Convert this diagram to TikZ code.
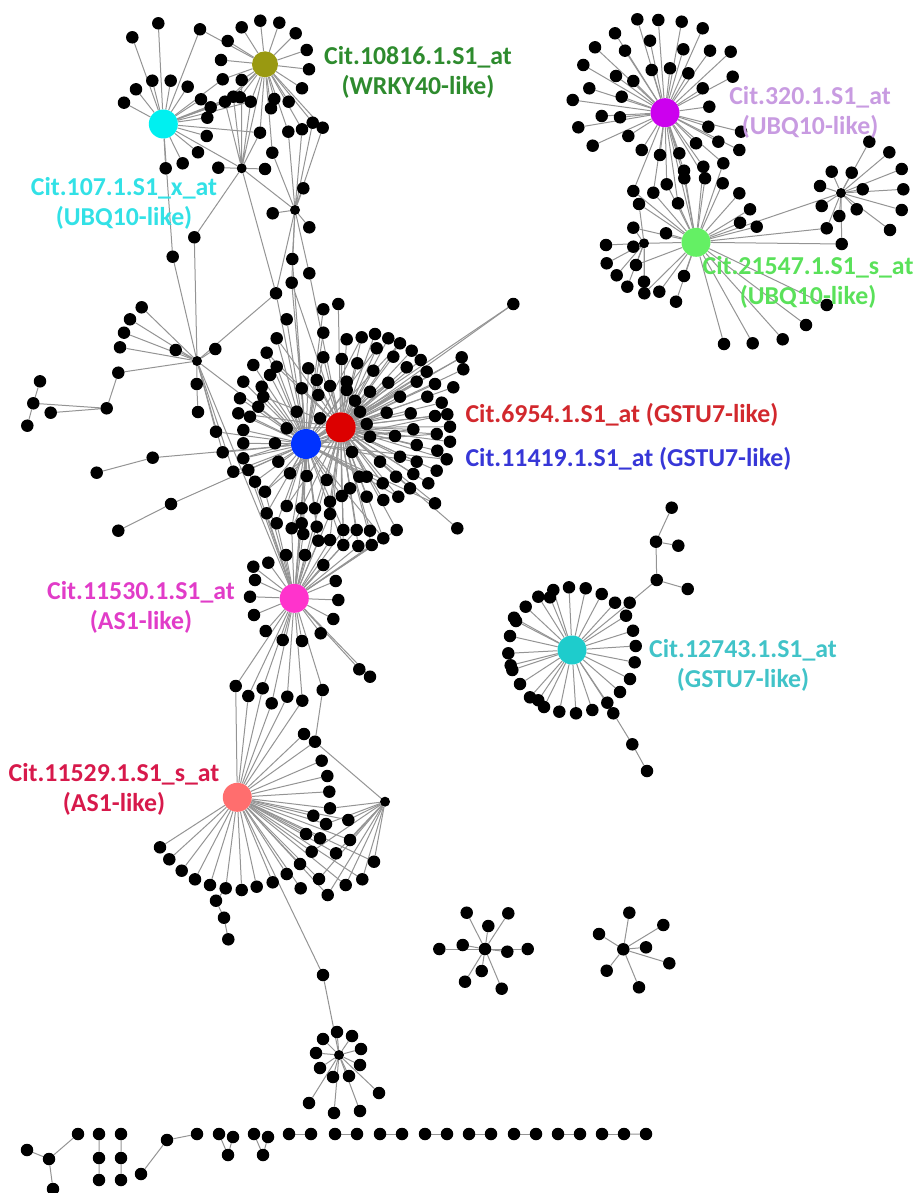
\documentclass[tikz,border=0pt]{standalone}
\usepackage{fontspec}
\setmainfont{Carlito}
\usepackage{tikz}
\pgfdeclarelayer{bg}
\pgfsetlayers{bg,main}

\definecolor{hubolive}{RGB}{153,153,17}
\definecolor{hubcyan}{RGB}{0,240,240}
\definecolor{hubpurple}{RGB}{204,0,238}
\definecolor{hubgreen}{RGB}{100,240,100}
\definecolor{hubred}{RGB}{220,0,0}
\definecolor{hubblue}{RGB}{0,51,255}
\definecolor{hubpink}{RGB}{255,51,204}
\definecolor{hubsalmon}{RGB}{255,110,110}
\definecolor{hubteal}{RGB}{30,204,204}
\definecolor{txtgreen}{RGB}{46,139,46}
\definecolor{txtcyan}{RGB}{50,225,230}
\definecolor{txtpurple}{RGB}{200,155,225}
\definecolor{txtlime}{RGB}{90,225,90}
\definecolor{txtred}{RGB}{210,40,45}
\definecolor{txtblue}{RGB}{55,55,215}
\definecolor{txtpink}{RGB}{225,60,200}
\definecolor{txtcrimson}{RGB}{215,25,75}
\definecolor{txtteal}{RGB}{65,195,200}

\begin{document}
\begin{tikzpicture}[x=1pt,y=-1pt,
  leaf/.style={circle,fill=black,inner sep=0pt,minimum size=12.5pt},
  knot/.style={circle,fill=black,inner sep=0pt,minimum size=10pt},
  hub/.style={circle,inner sep=0pt,minimum size=29pt},
  link/.style={draw=black!42,line width=1pt},
  tag/.style={font=\fontsize{25.8}{30}\selectfont\bfseries,align=center}]
\useasboundingbox (0,0) rectangle (919,1193);

% upper left
\node[hub,fill=hubcyan] (p107) at (163.3,124) {};
\node[hub,fill=hubolive,minimum size=26pt] (p10816) at (265,64.3) {};
\node[knot] (k2) at (241.7,168.3) {};
\node[knot] (k3) at (295,210) {};
\foreach \x/\y [count=\i] in {132.3/37.3,158.3/23.3,200/29.3,124/102.7,136/89.3,152.3/80.7,170.7/80.7,
  187.7/86.7,201/99.3,210.7/107.3,207.3/117.7,206.7/136,198/152.3,182.7/163.3,165.7/168.3,172.7/256.7}
  {\node[leaf] (c\i) at (\x,\y) {};}
\foreach \x/\y [count=\i] in {241.7/27.3,260.3/20.7,279.3/22.7,295.7/33.3,306.7/50,309/69.3,302/88.3,
  227.7/41,221/60,222.7/79.3,241.7/80,233.3/96.7,240/97.3,225/101.7,250.7/101.7,271/108.3,274.3/99,
  288.7/101.7,312.7/122.7,322.7/127.7,302/129.3,288.3/131.7,260/132.7,272.3/152.7}
  {\node[leaf] (o\i) at (\x,\y) {};}
\foreach \x/\y [count=\i] in {218.3/167.7,265/169,194.3/237.3}
  {\node[leaf] (q\i) at (\x,\y) {};}
\foreach \x/\y [count=\i] in {303.3/188.3,272.7/213.3,309.3/227.3,292.3/259,309.3/273.3,291.7/282.7,276/293.3}
  {\node[leaf] (v\i) at (\x,\y) {};}

% left branch
\node[knot] (k1) at (197,361) {};
\foreach \x/\y [count=\i] in {141.7/307.3,130/319.3,124/332.7,120/347.3,175.7/350,215.3/349,196.7/384,
  118.3/372.7,216/431.7,222.7/452.3,233.3/471.7}
  {\node[leaf] (w\i) at (\x,\y) {};}
\node[leaf] (w12) at (198,412) {};
\node[leaf] (x1) at (106.7,408.3) {};
\node[leaf] (x2) at (33.3,403.3) {};
\node[leaf] (x3) at (40,381.3) {};
\node[leaf] (x4) at (27.3,425.7) {};
\node[leaf] (x5) at (50.7,412.7) {};
\node[leaf] (z1) at (152.7,457.7) {};
\node[leaf] (z2) at (96.7,472.7) {};
\node[leaf] (z3) at (171,504) {};
\node[leaf] (z4) at (118.3,530.7) {};

% central pair
\node[hub,fill=hubblue,minimum size=30pt] (p11419) at (306,444) {};
\node[hub,fill=hubred,minimum size=30pt] (p6954) at (340.7,427.3) {};
\foreach \x/\y [count=\i] in {276.7/366.7,270/375,261.7/386.7,263.3/396.7,258.3/406.7,250/416.7,276.7/338.3,
  286.7/319.3,253.3/365,266.7/352.7,243.3/381.7,240/398.3,238.3/413.3,243.3/430,243.3/443.3,243.3/458.3,
  248.3/470,255/481.7,265/491.7,266.7/513.3,276.7/523.3,291.7/528.3,303.3/534,318.3/540.7,308.3/368.3,
  301.7/388.3,296.7/411.7,286.7/428.3,275/443.3,278.3/461.7,290/473.3,306.7/476,301.7/508.3,286.7/506,
  301.7/523.3,316.7/526.7,316.7/380,318.3/395,320/418.3,315/508.3,323.3/309.3,323.3/332.7}
  {\node[leaf] (b\i) at (\x,\y) {};}
\foreach \x/\y [count=\i] in {346.7/339.3,361.7/337.3,375/334,388.3/338.3,400/343.3,411.7/350.7,420.7/360,
  426.7/371.7,435/384,441.7/402.7,447.3/414.3,450/426.7,450/441.7,446.7/459.3,436.7/470.7,428.3/483.3,
  435/503.3,457.3/528.3,396.7/530,383.3/538.3,371.7/545,358.3/546,343.3/545,330/540,338.3/304,323.3/357.3,
  341.7/359,357.3/363.3,376.7/348.3,393.3/356.7,406.7/367.3,416.7/381.7,427.3/396.7,435/416,436.7/434,
  437.3/450.7,416.7/445,413.3/429.3,410.7/413.3,400/396.7,388.3/382.7,373.3/370.7,370/391.7,386.7/412.7,
  395/436,400/456.7,416.7/461.7,413.3/474,410/488.3,398.3/496.7,383.3/500,366.7/496.7,366.7/476.7,
  380/461.7,396/476.7,382.7/483.3,359.3/476.7,350/488.3,341.7/496,352/452,370/436.7,366.7/424,360/411.7,
  355/400.7,346.7/390,346.7/381.7,330/386,326.7/480,330/501.7,330/514,343.3/530,356.7/530,370/530.7,
  461.7/357.3,463.3/369.3,453.3/387.3,513.3/304}
  {\node[leaf] (r\i) at (\x,\y) {};}

% AS1 pair
\node[hub,fill=hubpink] (p11530) at (294.3,598.3) {};
\foreach \x/\y [count=\i] in {253.3/566.7,255/580,250/596.7,254/615,265.7/631,282.7/640,302/641,320.7/633.3,
  333.3/619,338.3/600,335.7/581,359.3/669.3,370/676.7,323.3/565,268.3/562.7,286/555,305/555}
  {\node[leaf] (m\i) at (\x,\y) {};}
\foreach \x/\y [count=\i] in {235.7/686,248.3/696,262.7/688.3,271.7/703.3,287.3/696.7,302.3/700.7,322.7/690}
  {\node[leaf] (n\i) at (\x,\y) {};}
\node[hub,fill=hubsalmon] (p11529) at (237.3,797.3) {};
\node[knot] (k6) at (385,801.7) {};
\foreach \x/\y [count=\i] in {304/734,315/741.7,321.7/760.7,327.3/776,329.3/791.7,330/808.3,313.3/815.7,
  326/824,348.3/820,306/834,320/838.3,350/840,311.7/851.7,336/853.3,374/861.7,300/864,286.7/874,319/879,
  362.3/879.3,345.7/885,300.7/888.3,327.7/895,272.7/882.3,256.7/886.7,241.7/890,225.7/888.3,210/885,
  195/879.3,181.7/870.7,169.3/859.3,160/847.3}
  {\node[leaf] (s\i) at (\x,\y) {};}
\node[leaf] (e1) at (216,900.7) {};
\node[leaf] (e2) at (224,917.7) {};
\node[leaf] (e3) at (228.3,939.3) {};
\node[leaf] (d1) at (323,975) {};
\node[knot] (k7) at (339,1055) {};
\foreach \x/\y [count=\i] in {337/1032,352/1036,323/1039,361/1049,316/1053,360/1065,320/1068,333/1077,
  349/1076,379/1093,309/1103,334/1113,360/1111}
  {\node[leaf] (f\i) at (\x,\y) {};}

% upper right
\node[hub,fill=hubpurple] (p320) at (665,112.7) {};
\node[hub,fill=hubgreen] (p21547) at (696,242.3) {};
\node[knot] (k4) at (644,243.3) {};
\node[knot] (k5) at (841,193) {};
\foreach \x/\y [count=\i] in {637.3/19.3,658.3/20,681.7/21.7,702.7/28.3,615/33.3,650/40.7,683.3/49.3,
  710/50.7,730.7/51.7,595/47.3,625/50.7,583.3/65,616/76,633.3/81,651.7/70,670/68.3,688.3/73.3,732.7/76.7,
  589.3/88.3,621.7/96.7,702.7/88.3,572.7/100,601.7/116,620/117.3,709.3/106.7,578.3/127.3,628.3/136,
  708.3/126.7,592.7/145.7,641.7/150,660/155,679.3/153.3,696/143.3,718.3/141.7,741/131.7,739.3/150}
  {\node[leaf] (u\i) at (\x,\y) {};}
\foreach \x/\y [count=\i] in {723.3/163.3,703.3/166.7,684/170.7,684.3/178.3,705/178.3,666.7/184.3,
  722.7/183.3,653.3/192.7,739.3/193.3,678/203.3,750/209.3,740/222.7,756.7/226.7,666/233.3,633.3/191,
  684/276,676/301.7,659.3/291.7,724/344,752.7/343.3,782.7/339.3,806/325,826.7/305}
  {\node[leaf] (g\i) at (\x,\y) {};}
\foreach \x/\y [count=\i] in {639/204,633.3/227.7,606/245,633.3/246.7,606.7/263.3,636/265,616.7/275.3,
  627.3/286.7,644/281.7,644.3/293.3}
  {\node[leaf] (j\i) at (\x,\y) {};}
\foreach \x/\y [count=\i] in {869.3/141.7,889.3/152.3,901.7/169,903.3/189.3,901.7/210,890/230,862.7/189.3,
  856.7/209.3,851.7/172.7,831.7/171.7,820/186,821.7/206,839.3/216,826.7/228.3,841.7/244}
  {\node[leaf] (l\i) at (\x,\y) {};}

% GSTU7 ring
\node[hub,fill=hubteal] (p12743) at (572,650) {};
\foreach \x/\y [count=\i] in {553.3/590,538.3/596.7,550/597.3,569/587.3,585.7/588.3,601.7/594,615/602.7,
  629.7/602.7,626/615.7,633/630.7,635.7/646,634.7/662.3,630/679,620/692,607.3/702.7,613.3/713.3,592.3/710,
  576/713.3,559.3/711.7,544/707,538.3/700.3,530/697.3,520/684,512.3/670,510.7/665.3,508.3/653.3,510/636,
  516/621,514/617.7,525.7/606.7}
  {\node[leaf] (t\i) at (\x,\y) {};}
\node[leaf] (h1) at (656.7,580) {};
\node[leaf] (h2) at (656,541.7) {};
\node[leaf] (h3) at (671.7,507.7) {};
\node[leaf] (h4) at (678.3,545.7) {};
\node[leaf] (h5) at (687.7,589) {};
\node[leaf] (h6) at (632.3,744.3) {};
\node[leaf] (h7) at (647,771) {};

% small stars
\node[knot,minimum size=12.5pt] (sa) at (485,949) {};
\foreach \x/\y [count=\i] in {466.7/912.7,508.3/913.3,488.3/926,439.3/949,462.7/945,507.3/951.7,527.7/949,
  481.7/971,465/981.7,501.7/988.7}
  {\node[leaf] (a\i) at (\x,\y) {};}
\node[knot,minimum size=12.5pt] (sb) at (623.3,949.3) {};
\foreach \x/\y [count=\i] in {629.3/912.7,663.3/925,599/934,646/947.3,669.3/963.3,606.7/970.7,639/987.3}
  {\node[leaf] (bb\i) at (\x,\y) {};}

% bottom row
\node[leaf] (y1) at (27,1150) {};
\node[leaf] (y2) at (49,1159) {};
\node[leaf] (y3) at (53,1189) {};
\node[leaf] (y4) at (78,1134) {};
\foreach \x [count=\i] in {99,121} {
  \node[leaf] (ca\i) at (\x,1134) {};
  \node[leaf] (cb\i) at (\x,1158) {};
  \node[leaf] (cc\i) at (\x,1180) {};
}
\node[leaf] (y5) at (141,1174) {};
\node[leaf] (y6) at (167,1140) {};
\node[leaf] (y7) at (197,1134) {};
\foreach \x [count=\i] in {219,254} {
  \node[leaf] (va\i) at (\x,1134) {};
  \node[leaf] (vb\i) at (\x+9,1155) {};
  \node[leaf] (vc\i) at (\x+14,1137) {};
}
\foreach \x [count=\i] in {289,335,380,425,469,514,558,602} {
  \node[leaf] (pa\i) at (\x,1134) {};
  \node[leaf] (pb\i) at (\x+22,1134) {};
}
\node[leaf] (y8) at (646,1134) {};

% edges
\begin{pgfonlayer}{bg}
\foreach \i in {1,...,16} {\draw[link] (p107) -- (c\i);}
\foreach \i in {1,...,24} {\draw[link] (p10816) -- (o\i);}
\foreach \i in {1,...,3} {\draw[link] (k2) -- (q\i);}
\foreach \i in {1,...,7} {\draw[link] (k3) -- (v\i);}
\foreach \i in {1,...,11} {\draw[link] (k1) -- (w\i);}
\foreach \i in {1,...,42} {\draw[link] (p11419) -- (b\i);}
\foreach \i in {1,...,77} {\draw[link] (p6954) -- (r\i);}
\foreach \i in {1,...,17} {\draw[link] (p11530) -- (m\i);}
\foreach \i in {1,...,7} {\draw[link] (p11530) -- (n\i);}
\foreach \i in {1,...,31} {\draw[link] (p11529) -- (s\i);}
\foreach \i in {1,...,13} {\draw[link] (k7) -- (f\i);}
\foreach \i in {1,...,36} {\draw[link] (p320) -- (u\i);}
\foreach \i in {1,...,23} {\draw[link] (p21547) -- (g\i);}
\foreach \i in {1,...,10} {\draw[link] (k4) -- (j\i);}
\foreach \i in {1,...,15} {\draw[link] (k5) -- (l\i);}
\foreach \i in {1,...,30} {\draw[link] (p12743) -- (t\i);}
\foreach \i in {1,...,10} {\draw[link] (sa) -- (a\i);}
\foreach \i in {1,...,7} {\draw[link] (sb) -- (bb\i);}
\draw[link] (p107) -- (o10) (p107) -- (o12) (p107) -- (o13) (p107) -- (o14) (p107) -- (o15) (p107) -- (o23);
\draw[link] (p10816) -- (c3) (k2) -- (p107) (k2) -- (p10816) (k2) -- (o11) (k2) -- (o12) (k2) -- (o14)
  (k2) -- (o15) (k2) -- (o23) (k2) -- (k3) (k2) -- (v7);
\draw[link] (k3) -- (o19) (k3) -- (o20) (k3) -- (o21) (k3) -- (o22) (k3) -- (o24);
\draw[link] (q3) -- (k1) (c16) -- (k1) (k1) -- (v7) (k1) -- (p11419) (k1) -- (p11530) (w7) -- (w12);
\draw[link] (w8) -- (x1) (x1) -- (x2) (x1) -- (x5) (x2) -- (x3) (x2) -- (x4);
\draw[link] (z1) -- (p11419) (z2) -- (z1) (z3) -- (p11419) (z4) -- (z3);
\draw[link] (w9) -- (p11419) (w10) -- (p11419) (w11) -- (p11419);
\draw[link] (v4) -- (p11419) (v5) -- (p6954) (v6) -- (p11419) (v7) -- (p11419) (v6) -- (p6954);
\foreach \i in {2,5,...,77} {\draw[link] (p11419) -- (r\i);}
\foreach \i in {1,4,...,42} {\draw[link] (p6954) -- (b\i);}
\draw[link] (p11530) -- (p11419) (p11530) -- (p6954);
\foreach \i in {17,18,19,20,21,22,23,24,33,35,36} {\draw[link] (p11530) -- (b\i);}
\foreach \i in {19,20,21,22,23,24,70,71,72} {\draw[link] (p11530) -- (r\i);}
\foreach \i in {1,...,6} {\draw[link] (p11529) -- (n\i);}
\draw[link] (n7) -- (s2) (p11529) -- (d1) (d1) -- (k7);
\foreach \i in {2,6,8,9,12,13,14,15,18,19,20,22} {\draw[link] (k6) -- (s\i);}
\draw[link] (s26) -- (e1) -- (e2) -- (e3);
\draw[link] (p320) -- (p21547) (p21547) -- (k4) (p21547) -- (k5) (p21547) -- (l14) (p21547) -- (l15);
\foreach \i in {1,2,3,4,5,6,8,10,15} {\draw[link] (p320) -- (g\i);}
\foreach \i in {1,2,6,10} {\draw[link] (p21547) -- (j\i);}
\draw[link] (t8) -- (h1) (h1) -- (h2) (h2) -- (h3) (h2) -- (h4) (h1) -- (h5) (t16) -- (h6) (h6) -- (h7);
\draw[link] (y2) -- (y1) (y2) -- (y3) (y2) -- (y4) (y5) -- (y6) (y6) -- (y7) (pb8) -- (y8);
\foreach \i in {1,2} {\draw[link] (ca\i) -- (cb\i) -- (cc\i) (va\i) -- (vb\i) -- (vc\i);}
\foreach \i in {1,...,8} {\draw[link] (pa\i) -- (pb\i);}
\end{pgfonlayer}

% labels
\node[tag,text=txtgreen] (lab10816) at (418,72) {Cit.10816.1.S1\_at\\(WRKY40-like)};
\node[tag,text=txtcyan] (lab107) at (124,203) {Cit.107.1.S1\_x\_at\\(UBQ10-like)};
\node[tag,text=txtpurple] (lab320) at (810,112) {Cit.320.1.S1\_at\\(UBQ10-like)};
\node[tag,text=txtlime] (lab21547) at (808,282) {Cit.21547.1.S1\_s\_at\\(UBQ10-like)};
\node[tag,text=txtred,anchor=west] (lab6954) at (462,415) {Cit.6954.1.S1\_at (GSTU7-like)};
\node[tag,text=txtblue,anchor=west] (lab11419) at (462,459) {Cit.11419.1.S1\_at (GSTU7-like)};
\node[tag,text=txtpink] (lab11530) at (141,607) {Cit.11530.1.S1\_at\\(AS1-like)};
\node[tag,text=txtcrimson] (lab11529) at (114,789) {Cit.11529.1.S1\_s\_at\\(AS1-like)};
\node[tag,text=txtteal] (lab12743) at (743,665) {Cit.12743.1.S1\_at\\(GSTU7-like)};
\end{tikzpicture}
\end{document}
